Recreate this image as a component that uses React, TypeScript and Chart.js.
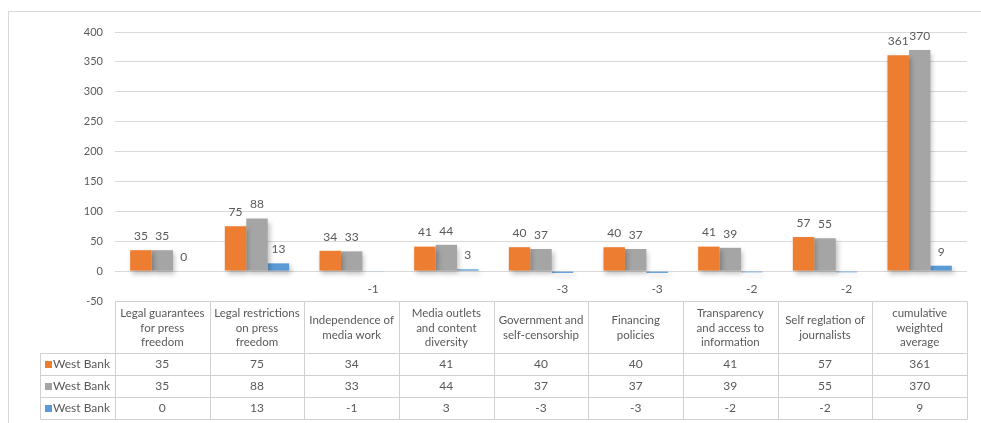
import React, { useEffect, useRef } from "react";
import { Chart, registerables } from "chart.js";

Chart.register(...registerables);

const categories: string[][] = [
  ["Legal guarantees", "for press", "freedom"],
  ["Legal restrictions", "on press", "freedom"],
  ["Independence of", "media work"],
  ["Media outlets", "and content", "diversity"],
  ["Government and", "self-censorship"],
  ["Financing", "policies"],
  ["Transparency", "and access to", "information"],
  ["Self reglation of", "journalists"],
  ["cumulative", "weighted", "average"],
];
const seriesNames = ["West Bank", "West Bank", "West Bank"];
const series1 = [35, 75, 34, 41, 40, 40, 41, 57, 361];
const series2 = [35, 88, 33, 44, 37, 37, 39, 55, 370];
const series3 = [0, 13, -1, 3, -3, -3, -2, -2, 9];
const colors = ["#ED7D31", "#A5A5A5", "#5B9BD5"];
const yMin = -50;
const yMax = 400;
const yStep = 50;

const FONT = "Lato, 'Liberation Sans', sans-serif";
const TEXT = "#595959";
const LINE = "#d9d9d9";

const tablePlugin = {
  id: "tablePlugin",
  beforeDraw(chart: any) {
    const ctx = chart.ctx;
    ctx.save();
    ctx.strokeStyle = "#d9d9d9";
    ctx.lineWidth = 1;
    ctx.strokeRect(8.5, 11.5, chart.width + 10, chart.height);
    ctx.restore();
  },
  beforeDatasetsDraw(chart: any) {
    const ctx = chart.ctx;
    ctx.save();
    ctx.shadowColor = "rgba(0,0,0,0.25)";
    ctx.shadowBlur = 5;
    ctx.shadowOffsetX = 2;
    ctx.shadowOffsetY = 3;
  },
  afterDatasetsDraw(chart: any) {
    const ctx = chart.ctx;
    ctx.restore();
    // data labels
    ctx.save();
    ctx.fillStyle = TEXT;
    ctx.font = `12px ${FONT}`;
    ctx.textAlign = "center";
    ctx.textBaseline = "middle";
    chart.data.datasets.forEach((ds: any, di: number) => {
      const meta = chart.getDatasetMeta(di);
      meta.data.forEach((bar: any, i: number) => {
        const v = ds.data[i];
        const y = v < 0 ? bar.base + 18 : bar.y - 14;
        ctx.fillText(String(v), bar.x, y);
      });
    });
    ctx.restore();

    // table
    const area = chart.chartArea;
    const left = area.left;
    const right = area.right;
    const n = categories.length;
    const cw = (right - left) / n;
    const top = area.bottom;
    const headerBottom = 353;
    const rowH = 22;
    const legendLeft = 40;
    const bottom = headerBottom + rowH * 3;
    ctx.save();
    ctx.strokeStyle = "#d0d0d0";
    ctx.lineWidth = 1;
    const px = (v: number) => Math.round(v) + 0.5;
    ctx.beginPath();
    ctx.moveTo(px(left), px(top));
    ctx.lineTo(px(right), px(top));
    for (let i = 0; i <= n; i++) {
      ctx.moveTo(px(left + cw * i), px(top));
      ctx.lineTo(px(left + cw * i), px(bottom));
    }
    for (let r = 0; r <= 3; r++) {
      const y = px(headerBottom + rowH * r);
      ctx.moveTo(px(legendLeft), y);
      ctx.lineTo(px(right), y);
    }
    ctx.moveTo(px(legendLeft), px(headerBottom));
    ctx.lineTo(px(legendLeft), px(bottom));
    ctx.stroke();

    ctx.fillStyle = TEXT;
    ctx.font = `11.5px ${FONT}`;
    ctx.textAlign = "center";
    ctx.textBaseline = "middle";
    const hMid = (top + headerBottom) / 2 + 1;
    const lh = 14.5;
    categories.forEach((lines, i) => {
      const cx = left + cw * (i + 0.5);
      const y0 = hMid - ((lines.length - 1) * lh) / 2;
      lines.forEach((t, k) => ctx.fillText(t, cx, y0 + k * lh));
    });
    ctx.font = `12px ${FONT}`;
    chart.data.datasets.forEach((ds: any, r: number) => {
      const cy = headerBottom + rowH * r + rowH / 2 + 0.5;
      ds.data.forEach((v: number, i: number) => {
        ctx.textAlign = "center";
        ctx.fillText(String(v), left + cw * (i + 0.5), cy);
      });
      ctx.fillStyle = colors[r];
      ctx.fillRect(45, cy - 3.5, 7, 7);
      ctx.fillStyle = TEXT;
      ctx.textAlign = "left";
      ctx.fillText(seriesNames[r], 53, cy);
    });
    ctx.restore();
  },
};

export default function App() {
  const ref = useRef<HTMLCanvasElement | null>(null);
  useEffect(() => {
    if (!ref.current) return;
    const chart = new Chart(ref.current, {
      type: "bar",
      data: {
        labels: categories.map((c) => c.join(" ")),
        datasets: [series1, series2, series3].map((d, i) => ({
          label: seriesNames[i],
          data: d,
          backgroundColor: colors[i],
          borderWidth: 0,
          categoryPercentage: 0.68,
          barPercentage: 1,
        })),
      },
      options: {
        animation: false,
        responsive: false,
        maintainAspectRatio: false,
        layout: { padding: { left: 0, right: 14, top: 32, bottom: 122 } },
        plugins: {
          legend: { display: false },
          tooltip: { enabled: false },
        },
        scales: {
          x: {
            display: false,
            grid: { display: false },
          },
          y: {
            min: yMin,
            max: yMax,
            afterFit: (s: any) => {
              s.width = 115;
            },
            border: { display: false },
            grid: { color: LINE, drawTicks: false, lineWidth: 1 },
            ticks: {
              stepSize: yStep,
              padding: 12,
              color: TEXT,
              font: { family: FONT, size: 11 },
            },
          },
        },
      },
      plugins: [tablePlugin],
    });
    return () => chart.destroy();
  }, []);
  return (
    <div style={{ position: "fixed", left: 0, top: 0, width: 981, height: 423, background: "#fff" }}>
      <canvas ref={ref} width={981} height={423} style={{ width: 981, height: 423 }} />
    </div>
  );
}
